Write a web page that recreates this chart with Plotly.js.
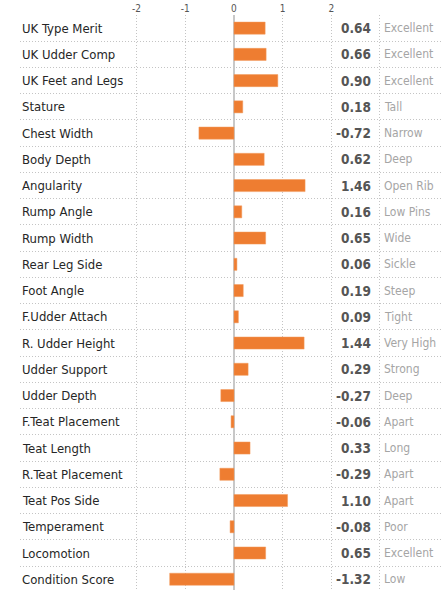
<!DOCTYPE html>
<html>
<head>
<meta charset="utf-8">
<script src="https://cdn.plot.ly/plotly-3.0.1.min.js"></script>
<style>html,body{margin:0;padding:0;background:#fff;}#chart{width:443px;height:590px;}</style>
</head>
<body>
<div id="chart"></div>
<script>
const traits = ["UK Type Merit","UK Udder Comp","UK Feet and Legs","Stature","Chest Width","Body Depth","Angularity","Rump Angle","Rump Width","Rear Leg Side","Foot Angle","F.Udder Attach","R. Udder Height","Udder Support","Udder Depth","F.Teat Placement","Teat Length","R.Teat Placement","Teat Pos Side","Temperament","Locomotion","Condition Score"];
const values = [0.64,0.66,0.90,0.18,-0.72,0.62,1.46,0.16,0.65,0.06,0.19,0.09,1.44,0.29,-0.27,-0.06,0.33,-0.29,1.10,-0.08,0.65,-1.32];
const descriptions = ["Excellent","Excellent","Excellent","Tall","Narrow","Deep","Open Rib","Low Pins","Wide","Sickle","Steep","Tight","Very High","Strong","Deep","Apart","Long","Apart","Apart","Poor","Excellent","Low"];
const xTicks = [-2,-1,0,1,2];
const xTickLabels = ["-2","-1","0","1","2"];

const FONT = "'DejaVu Sans Condensed', 'Liberation Sans Narrow', sans-serif";
const rows = traits.map((_, i) => i);
const VALUE_X = 2.845, DESC_X = 3.045, DIVIDER_X = 2.98;

const annotations = [];
traits.forEach((t, i) => {
  annotations.push({xref:'paper', x:0, yref:'y', y:i, text:t, showarrow:false, xanchor:'left', yanchor:'middle',
    font:{family:FONT, size:13, color:'#262626'}});
  annotations.push({xref:'x', x:VALUE_X, yref:'y', y:i, text:'<b>'+values[i].toFixed(2)+'</b>', showarrow:false, xanchor:'right', yanchor:'middle',
    font:{family:FONT, size:13.5, color:'#555'}});
  annotations.push({xref:'x', x:DESC_X, yref:'y', y:i, text:descriptions[i], showarrow:false, xanchor:'left', yanchor:'middle',
    font:{family:FONT, size:12, color:'#a5a5a5'}});
});

const data = [{
  type:'bar', orientation:'h', x: values, y: rows, width:0.46,
  marker:{color:'#EE7D31', line:{color:'#F39A5C', width:0.5}}, hoverinfo:'skip'
}];

const gridVals = [];
for (let i = 0; i < traits.length - 1; i++) gridVals.push(i + 0.5);

const layout = {
  width:443, height:590,
  margin:{l:20, r:0, t:15, b:0},
  paper_bgcolor:'#fff', plot_bgcolor:'#fff',
  showlegend:false,
  xaxis:{
    range:[-4.394, 4.292], side:'top',
    tickvals: xTicks.concat([DIVIDER_X]), ticktext: xTickLabels.concat(['']),
    tickfont:{family:FONT, size:10, color:'#555'}, ticks:'', ticklabelstandoff:0,
    showgrid:true, gridcolor:'#c4c4c4', griddash:'1px,2px', gridwidth:1,
    zeroline:true, zerolinecolor:'#c8c8c8', zerolinewidth:1.2,
    showline:false, fixedrange:true
  },
  yaxis:{
    range:[21.41, -0.5], autorange:false,
    tickvals: gridVals, showticklabels:false, ticks:'',
    showgrid:true, gridcolor:'#c4c4c4', griddash:'1px,2px', gridwidth:1,
    zeroline:false, showline:false, fixedrange:true
  },
  annotations: annotations
};

Plotly.newPlot('chart', data, layout, {displayModeBar:false, staticPlot:true});
</script>
</body>
</html>
